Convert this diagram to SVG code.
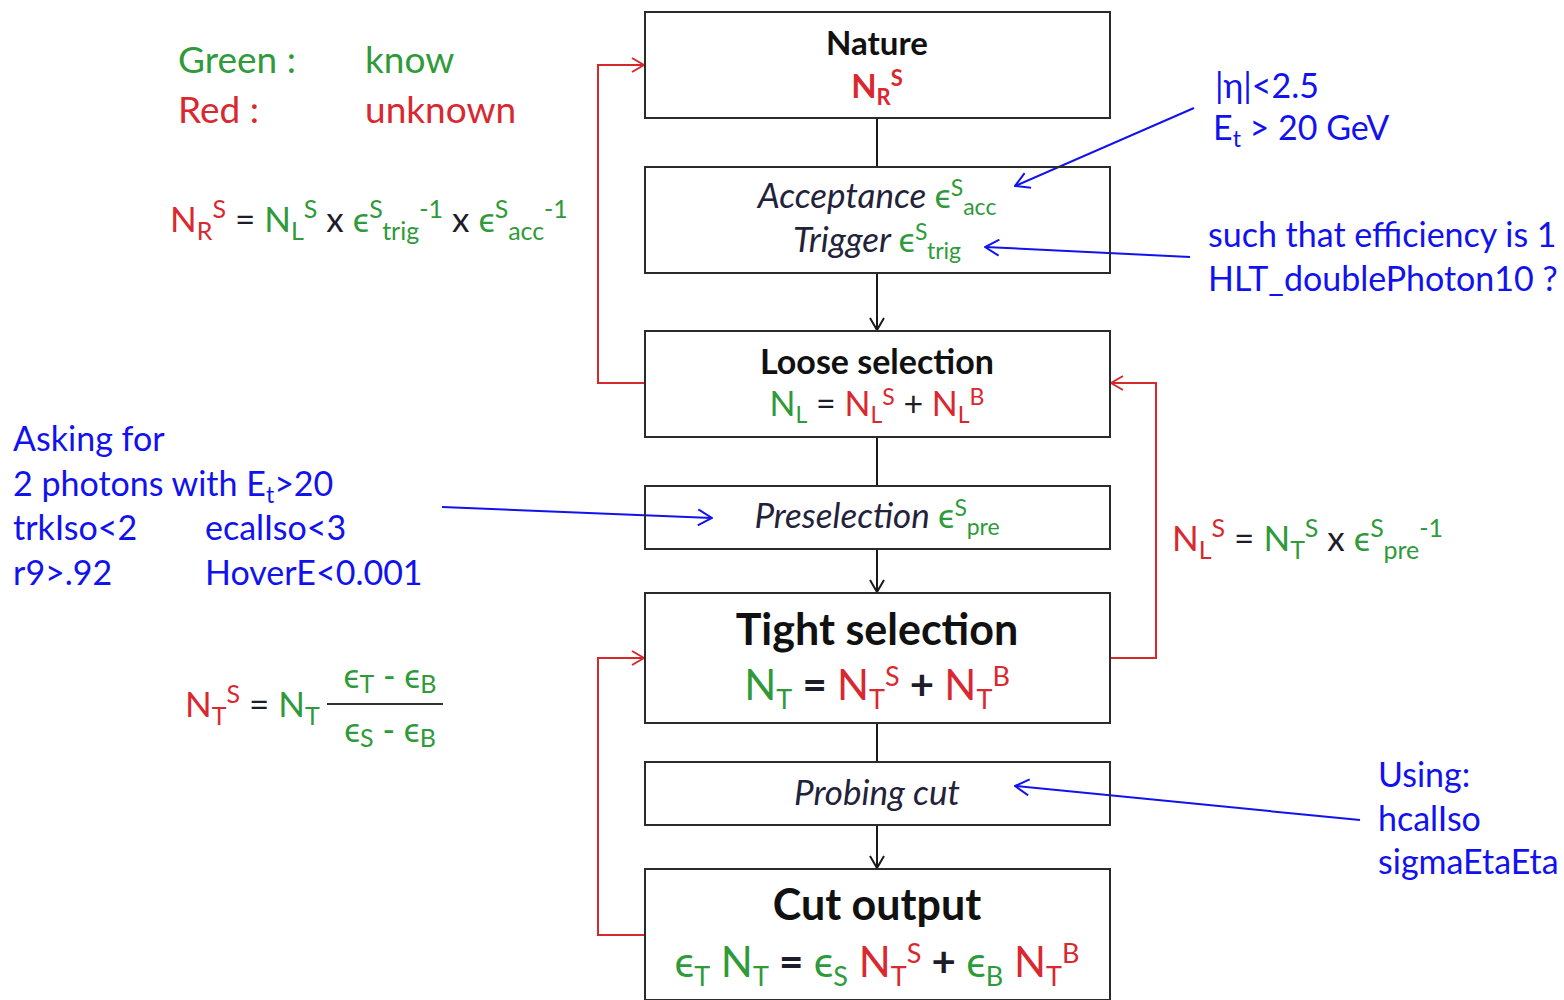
<svg xmlns="http://www.w3.org/2000/svg" width="1564" height="1000" viewBox="0 0 1564 1000">
  <defs>
    <style>
      text { font-family: Lato, "Open Sans", "DejaVu Sans", sans-serif; }
      .box { fill: none; stroke: #2b2b2b; stroke-width: 2; }
      .flow { fill: none; stroke: #1a1a1a; stroke-width: 2; }
      .fb { fill: none; stroke: #d42a2e; stroke-width: 2; }
      .note { fill: none; stroke: #1212ee; stroke-width: 2; }
      .g { fill: #2f9a3a; }
      .r { fill: #d92830; }
      .k { fill: #1c1c2a; }
      .b { fill: #1212ee; }
      .title { font-weight: bold; fill: #111111; }
      .it { font-style: italic; fill: #22223a; }
      .up { font-style: normal; }
    </style>
    <marker id="arrK" viewBox="0 0 14 16" refX="13" refY="8" markerWidth="14" markerHeight="16" markerUnits="userSpaceOnUse" orient="auto">
      <path d="M1,1 L13,8 L1,15" fill="none" stroke="#1a1a1a" stroke-width="2"/>
    </marker>
    <marker id="arrR" viewBox="0 0 14 16" refX="13" refY="8" markerWidth="14" markerHeight="16" markerUnits="userSpaceOnUse" orient="auto">
      <path d="M1,1 L13,8 L1,15" fill="none" stroke="#d42a2e" stroke-width="2"/>
    </marker>
    <marker id="arrB" viewBox="0 0 16 18" refX="15" refY="9" markerWidth="16" markerHeight="18" markerUnits="userSpaceOnUse" orient="auto">
      <path d="M1,1 L15,9 L1,17" fill="none" stroke="#1212ee" stroke-width="2"/>
    </marker>
  </defs>

  <rect width="1564" height="1000" fill="#ffffff"/>

  <!-- connectors -->
  <g id="connectors">
    <line class="flow" x1="877" y1="118" x2="877" y2="167"/>
    <line class="flow" x1="877" y1="273" x2="877" y2="330" marker-end="url(#arrK)"/>
    <line class="flow" x1="877" y1="437" x2="877" y2="486"/>
    <line class="flow" x1="877" y1="549" x2="877" y2="592" marker-end="url(#arrK)"/>
    <line class="flow" x1="877" y1="723" x2="877" y2="762"/>
    <line class="flow" x1="877" y1="825" x2="877" y2="868" marker-end="url(#arrK)"/>

    <path class="fb" d="M645,383 H598 V65 H644" marker-end="url(#arrR)"/>
    <path class="fb" d="M645,935 H598 V658 H644" marker-end="url(#arrR)"/>
    <path class="fb" d="M1110,658 H1156 V383 H1111" marker-end="url(#arrR)"/>

    <line class="note" x1="1194" y1="108" x2="1015" y2="186" marker-end="url(#arrB)"/>
    <line class="note" x1="1190" y1="257" x2="985" y2="247" marker-end="url(#arrB)"/>
    <line class="note" x1="442" y1="507" x2="712" y2="518" marker-end="url(#arrB)"/>
    <line class="note" x1="1360" y1="820" x2="1015" y2="786" marker-end="url(#arrB)"/>
  </g>

  <!-- flow nodes -->
  <g id="nature">
    <rect class="box" x="645" y="12" width="465" height="106"/>
    <text x="877" y="55" text-anchor="middle" font-size="33" class="title">Nature</text>
    <text x="877" y="98" text-anchor="middle" font-size="33" font-weight="bold" class="r">N<tspan font-size="22" dy="7">R</tspan><tspan font-size="22" dy="-19">S</tspan></text>
  </g>

  <g id="acceptance">
    <rect class="box" x="645" y="167" width="465" height="106"/>
    <text x="877" y="208" text-anchor="middle" font-size="35" class="it">Acceptance <tspan class="g up">ϵ</tspan><tspan class="g up" font-size="23" dy="-12">S</tspan><tspan class="g up" font-size="23" dy="19">acc</tspan></text>
    <text x="877" y="252" text-anchor="middle" font-size="35" class="it">Trigger <tspan class="g up">ϵ</tspan><tspan class="g up" font-size="23" dy="-12">S</tspan><tspan class="g up" font-size="23" dy="19">trig</tspan></text>
  </g>

  <g id="loose">
    <rect class="box" x="645" y="331" width="465" height="106"/>
    <text x="877" y="374" text-anchor="middle" font-size="34" class="title">Loose selection</text>
    <text x="877" y="416" text-anchor="middle" font-size="34"><tspan class="g">N</tspan><tspan class="g" font-size="23" dy="7">L</tspan><tspan class="k" dy="-7"> = </tspan><tspan class="r">N</tspan><tspan class="r" font-size="23" dy="7">L</tspan><tspan class="r" font-size="23" dy="-18">S</tspan><tspan class="k" dy="11"> + </tspan><tspan class="r">N</tspan><tspan class="r" font-size="23" dy="7">L</tspan><tspan class="r" font-size="23" dy="-18">B</tspan></text>
  </g>

  <g id="preselection">
    <rect class="box" x="645" y="486" width="465" height="63"/>
    <text x="877" y="528" text-anchor="middle" font-size="35" class="it">Preselection <tspan class="g up">ϵ</tspan><tspan class="g up" font-size="23" dy="-12">S</tspan><tspan class="g up" font-size="23" dy="19">pre</tspan></text>
  </g>

  <g id="tight">
    <rect class="box" x="645" y="593" width="465" height="130"/>
    <text x="877" y="645" text-anchor="middle" font-size="43" class="title">Tight selection</text>
    <text x="877" y="700" text-anchor="middle" font-size="42"><tspan class="g">N</tspan><tspan class="g" font-size="27" dy="9">T</tspan><tspan class="k" font-weight="bold" dy="-9"> = </tspan><tspan class="r">N</tspan><tspan class="r" font-size="27" dy="9">T</tspan><tspan class="r" font-size="27" dy="-23">S</tspan><tspan class="k" font-weight="bold" dy="14"> + </tspan><tspan class="r">N</tspan><tspan class="r" font-size="27" dy="9">T</tspan><tspan class="r" font-size="27" dy="-23">B</tspan></text>
  </g>

  <g id="probing">
    <rect class="box" x="645" y="762" width="465" height="63"/>
    <text x="877" y="805" text-anchor="middle" font-size="35" class="it">Probing cut</text>
  </g>

  <g id="cut-output">
    <rect class="box" x="645" y="869" width="465" height="131"/>
    <text x="877" y="920" text-anchor="middle" font-size="43" class="title">Cut output</text>
    <text x="877" y="977" text-anchor="middle" font-size="42"><tspan class="g">ϵ</tspan><tspan class="g" font-size="27" dy="9">T</tspan><tspan class="g" dy="-9"> N</tspan><tspan class="g" font-size="27" dy="9">T</tspan><tspan class="k" font-weight="bold" dy="-9"> = </tspan><tspan class="g">ϵ</tspan><tspan class="g" font-size="27" dy="9">S</tspan><tspan class="r" dy="-9"> N</tspan><tspan class="r" font-size="27" dy="9">T</tspan><tspan class="r" font-size="27" dy="-23">S</tspan><tspan class="k" font-weight="bold" dy="14"> + </tspan><tspan class="g">ϵ</tspan><tspan class="g" font-size="27" dy="9">B</tspan><tspan class="r" dy="-9"> N</tspan><tspan class="r" font-size="27" dy="9">T</tspan><tspan class="r" font-size="27" dy="-23">B</tspan></text>
  </g>

  <!-- legend -->
  <g id="legend" font-size="37">
    <text x="178" y="73" class="g">Green :</text>
    <text x="365" y="73" class="g">know</text>
    <text x="178" y="123" class="r">Red :</text>
    <text x="365" y="123" class="r">unknown</text>
  </g>

  <!-- relations between the counts -->
  <g id="eq-nature" font-size="35">
    <text x="170" y="232"><tspan class="r">N</tspan><tspan class="r" font-size="25" dy="8">R</tspan><tspan class="r" font-size="25" dy="-22">S</tspan><tspan class="k" dy="14"> = </tspan><tspan class="g">N</tspan><tspan class="g" font-size="25" dy="8">L</tspan><tspan class="g" font-size="25" dy="-22">S</tspan><tspan class="k" dy="14"> x </tspan><tspan class="g">ϵ</tspan><tspan class="g" font-size="25" dy="-14">S</tspan><tspan class="g" font-size="25" dy="22">trig</tspan><tspan class="g" font-size="25" dy="-22">-1</tspan><tspan class="k" dy="14"> x </tspan><tspan class="g">ϵ</tspan><tspan class="g" font-size="25" dy="-14">S</tspan><tspan class="g" font-size="25" dy="22">acc</tspan><tspan class="g" font-size="25" dy="-22">-1</tspan></text>
  </g>

  <g id="eq-loose" font-size="35">
    <text x="1172" y="551"><tspan class="r">N</tspan><tspan class="r" font-size="25" dy="8">L</tspan><tspan class="r" font-size="25" dy="-22">S</tspan><tspan class="k" dy="14"> = </tspan><tspan class="g">N</tspan><tspan class="g" font-size="25" dy="8">T</tspan><tspan class="g" font-size="25" dy="-22">S</tspan><tspan class="k" dy="14"> x </tspan><tspan class="g">ϵ</tspan><tspan class="g" font-size="25" dy="-14">S</tspan><tspan class="g" font-size="25" dy="22">pre</tspan><tspan class="g" font-size="25" dy="-22">-1</tspan></text>
  </g>

  <g id="eq-tight" font-size="35">
    <text x="185" y="717"><tspan class="r">N</tspan><tspan class="r" font-size="25" dy="8">T</tspan><tspan class="r" font-size="25" dy="-22">S</tspan><tspan class="k" dy="14"> = </tspan><tspan class="g">N</tspan><tspan class="g" font-size="25" dy="8">T</tspan></text>
    <text x="390" y="688" text-anchor="middle" font-size="34" class="g">ϵ<tspan font-size="25" dy="5">T</tspan><tspan dy="-5"> - ϵ</tspan><tspan font-size="25" dy="5">B</tspan></text>
    <line x1="327" y1="704" x2="443" y2="704" stroke="#333333" stroke-width="2"/>
    <text x="390" y="742" text-anchor="middle" font-size="34" class="g">ϵ<tspan font-size="25" dy="5">S</tspan><tspan dy="-5"> - ϵ</tspan><tspan font-size="25" dy="5">B</tspan></text>
  </g>

  <!-- cut annotations -->
  <g id="note-acceptance" font-size="34" class="b">
    <text x="1215" y="98">|η|&lt;2.5</text>
    <text x="1213" y="140">E<tspan font-size="23" dy="7">t</tspan><tspan dy="-7"> &gt; 20 GeV</tspan></text>
  </g>

  <g id="note-trigger" font-size="34" class="b">
    <text x="1208" y="247">such that efficiency is 1</text>
    <text x="1208" y="291">HLT_doublePhoton10 ?</text>
  </g>

  <g id="note-preselection" font-size="34" class="b">
    <text x="13" y="451">Asking for</text>
    <text x="13" y="496">2 photons with E<tspan font-size="23" dy="7">t</tspan><tspan dy="-7">&gt;20</tspan></text>
    <text x="13" y="540">trkIso&lt;2</text>
    <text x="205" y="540">ecalIso&lt;3</text>
    <text x="13" y="585">r9&gt;.92</text>
    <text x="205" y="585">HoverE&lt;0.001</text>
  </g>

  <g id="note-probing" font-size="34" class="b">
    <text x="1378" y="787">Using:</text>
    <text x="1378" y="831">hcalIso</text>
    <text x="1378" y="874">sigmaEtaEta</text>
  </g>
</svg>
